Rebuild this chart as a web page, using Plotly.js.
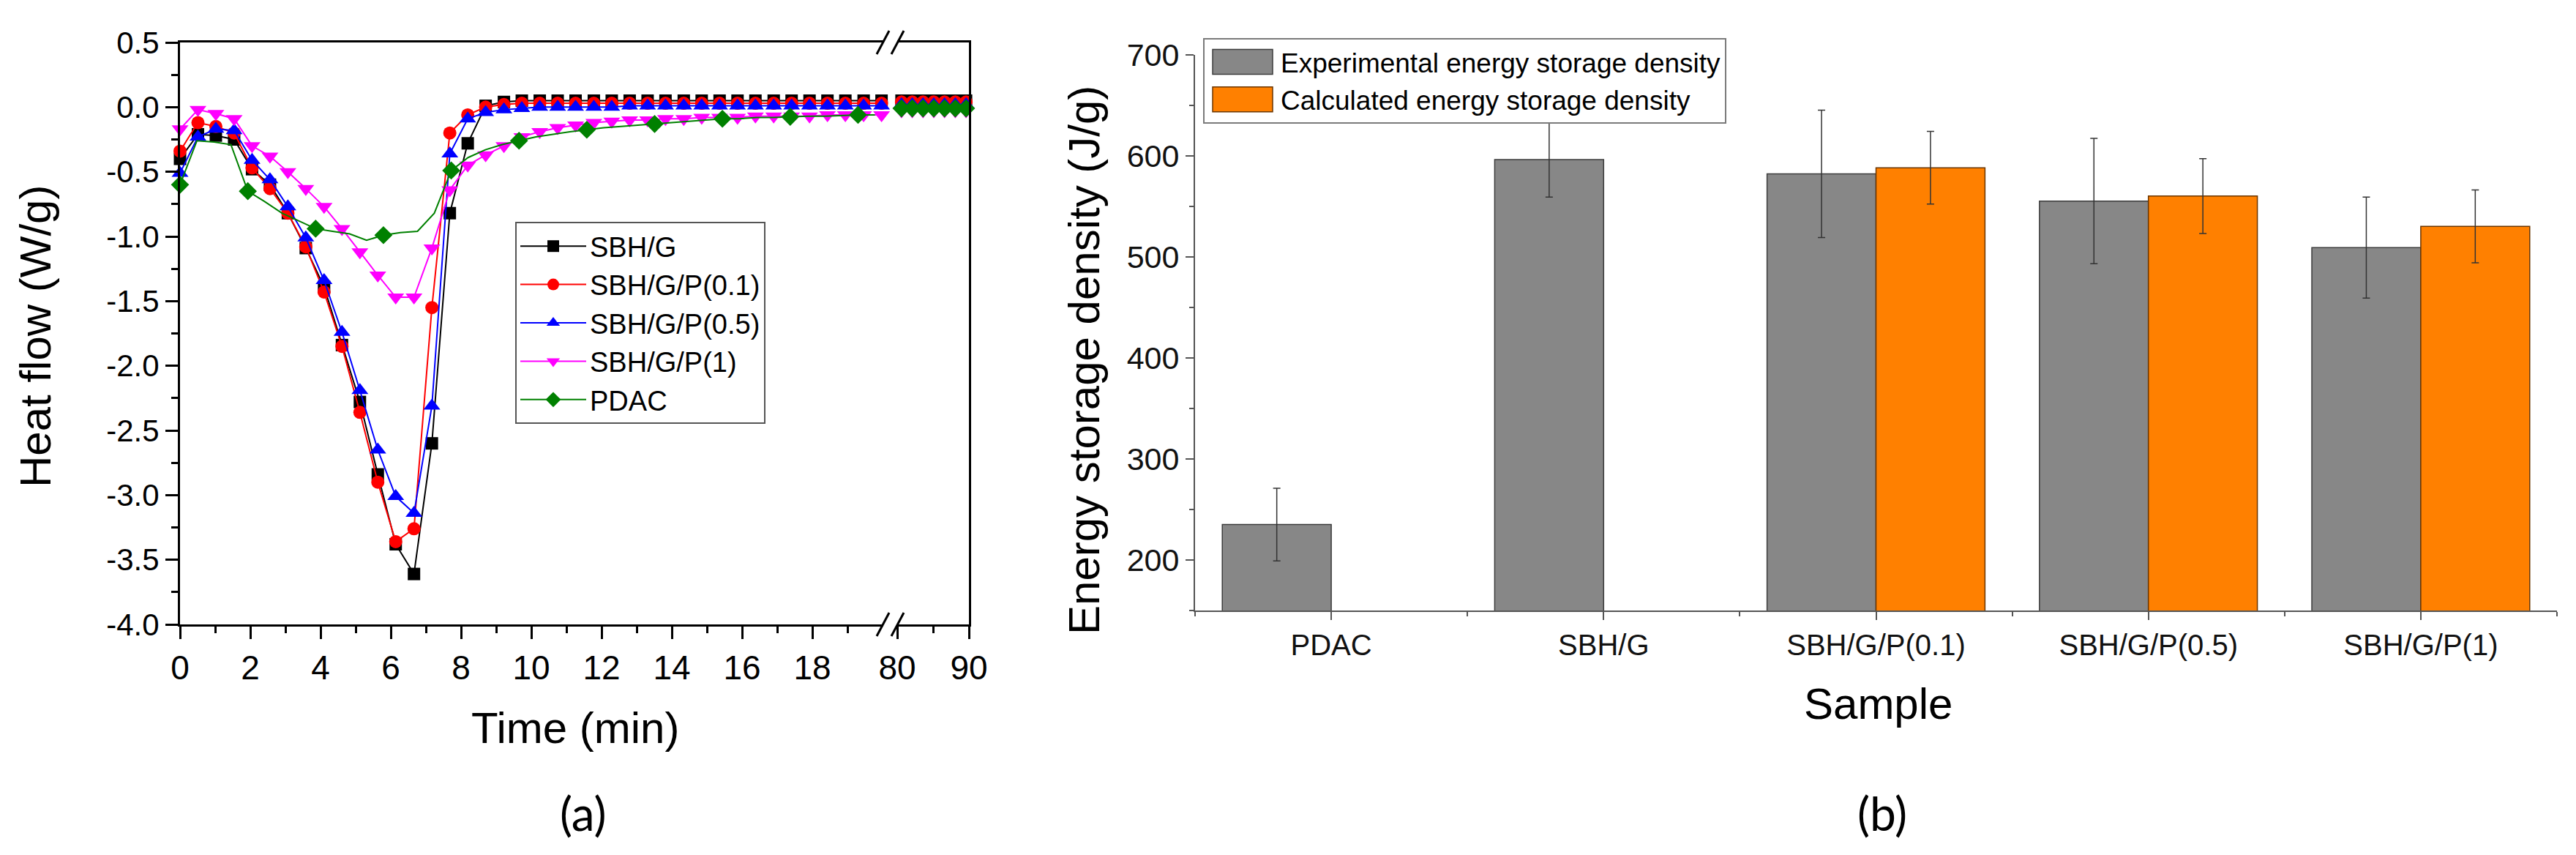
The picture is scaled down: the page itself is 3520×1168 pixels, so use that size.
<!DOCTYPE html>
<html>
<head>
<meta charset="utf-8">
<script src="https://cdn.plot.ly/plotly-3.0.1.min.js"></script>
<style>
  html, body { margin: 0; padding: 0; background: #fff; }
  #fig { width: 3520px; height: 1168px; }
</style>
</head>
<body>
<div id="fig"></div>
<script>
// ---- (a) heat flow vs time, left part of the broken axis (0-20 min)
const timeA = [0, 0.51, 1.02, 1.54, 2.05, 2.56, 3.07, 3.58, 4.10, 4.61,
  5.12, 5.63, 6.14, 6.66, 7.17, 7.68, 8.19, 8.70, 9.22, 9.73,
  10.24, 10.75, 11.26, 11.78, 12.29, 12.80, 13.31, 13.82, 14.34, 14.85,
  15.36, 15.87, 16.38, 16.90, 17.41, 17.92, 18.43, 18.94, 19.46, 19.97];

const sbhG = [-0.40, -0.21, -0.22, -0.25, -0.48, -0.60, -0.82, -1.09, -1.39, -1.84,
  -2.28, -2.84, -3.38, -3.61, -2.60, -0.82, -0.28, 0.01, 0.04, 0.05,
  0.05, 0.05, 0.05, 0.05, 0.05, 0.05, 0.05, 0.05, 0.05, 0.05,
  0.05, 0.05, 0.05, 0.05, 0.05, 0.05, 0.05, 0.05, 0.05, 0.05];

const sbhGP01 = [-0.34, -0.12, -0.15, -0.20, -0.47, -0.63, -0.82, -1.08, -1.43, -1.85,
  -2.36, -2.90, -3.36, -3.26, -1.55, -0.20, -0.06, 0.00, 0.02, 0.03,
  0.03, 0.03, 0.03, 0.03, 0.03, 0.03, 0.03, 0.03, 0.03, 0.03,
  0.03, 0.03, 0.03, 0.03, 0.03, 0.03, 0.03, 0.03, 0.03, 0.03];

const sbhGP05 = [-0.51, -0.23, -0.17, -0.18, -0.41, -0.56, -0.77, -1.01, -1.34, -1.74,
  -2.19, -2.65, -3.01, -3.14, -2.31, -0.36, -0.09, -0.04, -0.02, -0.01,
  0.00, 0.00, 0.00, 0.00, 0.00, 0.01, 0.01, 0.01, 0.01, 0.01,
  0.01, 0.01, 0.01, 0.01, 0.01, 0.01, 0.01, 0.01, 0.01, 0.01];

const sbhGP1 = [-0.17, -0.02, -0.05, -0.09, -0.30, -0.38, -0.50, -0.63, -0.77, -0.94,
  -1.12, -1.30, -1.47, -1.47, -1.09, -0.64, -0.45, -0.37, -0.30, -0.23,
  -0.19, -0.16, -0.14, -0.12, -0.11, -0.10, -0.10, -0.09, -0.09, -0.08,
  -0.08, -0.08, -0.07, -0.07, -0.07, -0.07, -0.06, -0.06, -0.06, -0.06];

// PDAC is logged on its own, finer grid (marker shown on every 4th point)
const timePdac = [0, 0.48, 0.97, 1.45, 1.93, 2.41, 2.90, 3.38, 3.86, 4.34,
  4.83, 5.31, 5.79, 6.27, 6.76, 7.24, 7.72, 8.20, 8.69, 9.17,
  9.65, 10.13, 10.62, 11.10, 11.58, 12.06, 12.55, 13.03, 13.51, 13.99,
  14.48, 14.96, 15.44, 15.92, 16.41, 16.89, 17.37, 17.85, 18.34, 18.82,
  19.30, 19.78];
const pdac = [-0.60, -0.26, -0.27, -0.29, -0.65, -0.73, -0.82, -0.88, -0.94, -0.96,
  -0.98, -1.03, -0.99, -0.97, -0.96, -0.82, -0.49, -0.39, -0.33, -0.29,
  -0.26, -0.23, -0.21, -0.19, -0.175, -0.16, -0.15, -0.14, -0.13, -0.12,
  -0.11, -0.10, -0.09, -0.09, -0.08, -0.08, -0.075, -0.07, -0.07, -0.065,
  -0.06, -0.06];

// ---- (a) right part of the broken axis (80-90 min)
const timeB = [80.6, 82.1, 83.6, 85.1, 86.6, 88.1, 89.6];
const sbhGEnd = [0.05, 0.05, 0.05, 0.05, 0.05, 0.05, 0.05];
const sbhGP01End = [0.04, 0.04, 0.04, 0.04, 0.04, 0.04, 0.04];
const sbhGP05End = [0.02, 0.02, 0.02, 0.02, 0.02, 0.02, 0.02];
const sbhGP1End = [-0.03, -0.03, -0.03, -0.03, -0.03, -0.03, -0.03];
const pdacEnd = [-0.01, -0.01, -0.01, -0.01, -0.01, -0.01, -0.01];

// ---- (a) tick labels
const timeTicksA = [0, 2, 4, 6, 8, 10, 12, 14, 16, 18];
const timeMinorA = [1, 3, 5, 7, 9, 11, 13, 15, 17, 19];
const timeTicksB = [80, 90];
const timeMinorB = [85];
const heatTicks = [-4, -3.5, -3, -2.5, -2, -1.5, -1, -0.5, 0, 0.5];
const heatTickText = ['-4.0', '-3.5', '-3.0', '-2.5', '-2.0', '-1.5', '-1.0', '-0.5', '0.0', '0.5'];
const heatMinor = [-3.75, -3.25, -2.75, -2.25, -1.75, -1.25, -0.75, -0.25, 0.25];

// ---- (b) energy storage density
const samples = ['PDAC', 'SBH/G', 'SBH/G/P(0.1)', 'SBH/G/P(0.5)', 'SBH/G/P(1)'];
const expDensity = [235, 596, 582, 555, 509];
const expErr = [36, 37, 63, 62, 50];
const calcDensity = [null, null, 588, 560, 530];
const calcErr = [null, null, 36, 37, 36];


const W = 3520, H = 1168;
const px = v => v / W;
const py = v => 1 - v / H;

const FONT = 'Liberation Sans, Arial, Helvetica, sans-serif';
const sampleIdx = samples.map((s, i) => i);

const seriesA = [
  {name: 'SBH/G', y: sbhG, yEnd: sbhGEnd, color: '#000000', symbol: 'square', size: 17},
  {name: 'SBH/G/P(0.1)', y: sbhGP01, yEnd: sbhGP01End, color: '#ff0000', symbol: 'circle', size: 18},
  {name: 'SBH/G/P(0.5)', y: sbhGP05, yEnd: sbhGP05End, color: '#0000ff', symbol: 'triangle-up', size: 20},
  {name: 'SBH/G/P(1)', y: sbhGP1, yEnd: sbhGP1End, color: '#ff00ff', symbol: 'triangle-down', size: 20}
];

const traces = [];

seriesA.forEach(s => {
  traces.push({
    x: timeA, y: s.y,
    mode: 'lines+markers',
    name: s.name,
    xaxis: 'x', yaxis: 'y',
    legend: 'legend',
    cliponaxis: false,
    line: {color: s.color, width: 2},
    marker: {color: s.color, symbol: s.symbol, size: s.size}
  });
});

traces.push({
  x: timePdac, y: pdac,
  mode: 'lines+markers',
  name: 'PDAC',
  xaxis: 'x', yaxis: 'y',
  legend: 'legend',
  cliponaxis: false,
  line: {color: '#008000', width: 2},
  marker: {color: '#008000', symbol: 'diamond', size: 19, maxdisplayed: 11}
});

// right segment of the broken axis
seriesA.forEach(s => {
  traces.push({
    x: timeB, y: s.yEnd,
    mode: 'lines+markers',
    name: s.name,
    showlegend: false,
    xaxis: 'x2', yaxis: 'y2',
    cliponaxis: false,
    line: {color: s.color, width: 2},
    marker: {color: s.color, symbol: s.symbol, size: s.size}
  });
});
traces.push({
  x: timeB, y: pdacEnd,
  mode: 'lines+markers',
  name: 'PDAC',
  showlegend: false,
  xaxis: 'x2', yaxis: 'y2',
  cliponaxis: false,
  line: {color: '#008000', width: 2},
  marker: {color: '#008000', symbol: 'diamond', size: 19}
});

// (b) bars
traces.push({
  type: 'bar',
  x: sampleIdx, y: expDensity,
  name: 'Experimental energy storage density',
  xaxis: 'x3', yaxis: 'y3',
  legend: 'legend2',
  marker: {color: '#878787', line: {color: '#3c3c3c', width: 1.5}},
  error_y: {type: 'data', array: expErr, visible: true, color: '#333333', thickness: 1.5, width: 5}
});
traces.push({
  type: 'bar',
  x: sampleIdx, y: calcDensity,
  name: 'Calculated energy storage density',
  xaxis: 'x3', yaxis: 'y3',
  legend: 'legend2',
  marker: {color: '#ff8000', line: {color: '#6b3500', width: 1.5}},
  error_y: {type: 'data', array: calcErr, visible: true, color: '#333333', thickness: 1.5, width: 5}
});


const axA = {
  showline: true, linecolor: '#000', linewidth: 3,
  ticks: 'outside', ticklen: 17, tickwidth: 3, tickcolor: '#000',
  showgrid: false, zeroline: false,
  tickfont: {family: FONT, size: 46, color: '#000'}
};
const minorA = {ticks: 'outside', ticklen: 9, tickwidth: 3, tickcolor: '#000', showgrid: false};

const axB = {
  showline: true, linecolor: '#555', linewidth: 2,
  ticks: 'outside', ticklen: 11, tickwidth: 2, tickcolor: '#555',
  showgrid: false, zeroline: false
};
const minorB = {ticks: 'outside', ticklen: 6, tickwidth: 2, tickcolor: '#555', showgrid: false};

// break marks "//" on the top and bottom frame lines of (a)
const breakMarks = [];
[853, 58].forEach(yAxis => {
  [[1198, 1215], [1218, 1235]].forEach(([x0, x1]) => {
    breakMarks.push({
      type: 'line', xref: 'paper', yref: 'paper',
      x0: px(x0), y0: py(yAxis + 16), x1: px(x1), y1: py(yAxis - 16),
      line: {color: '#000', width: 3}
    });
  });
});

const layout = {
  width: W, height: H,
  margin: {l: 0, r: 0, t: 0, b: 0},
  paper_bgcolor: '#fff',
  plot_bgcolor: 'rgba(0,0,0,0)',
  font: {family: FONT, color: '#000'},
  showlegend: true,
  barmode: 'group',
  bargap: 0.2,
  bargroupgap: 0,

  xaxis: Object.assign({}, axA, {
    domain: [px(246), px(1207)], range: [0, 20.02], anchor: 'y', mirror: true,
    tickmode: 'array', tickvals: timeTicksA, ticktext: timeTicksA.map(String),
    minor: Object.assign({tickmode: 'array', tickvals: timeMinorA}, minorA)
  }),
  xaxis2: Object.assign({}, axA, {
    domain: [px(1226), px(1324)], range: [80, 90], anchor: 'y2', mirror: true,
    tickmode: 'array', tickvals: timeTicksB, ticktext: timeTicksB.map(String),
    minor: Object.assign({tickmode: 'array', tickvals: timeMinorB}, minorA)
  }),
  yaxis: Object.assign({}, axA, {
    domain: [py(853), py(58)], range: [-4, 0.5], anchor: 'x',
    tickmode: 'array', tickvals: heatTicks, ticktext: heatTickText,
    tickfont: {family: FONT, size: 42, color: '#000'},
    minor: Object.assign({tickmode: 'array', tickvals: heatMinor}, minorA)
  }),
  yaxis2: {
    domain: [py(853), py(58)], range: [-4, 0.5], anchor: 'x2', side: 'right',
    showline: true, linecolor: '#000', linewidth: 3,
    ticks: '', showticklabels: false, showgrid: false, zeroline: false
  },

  xaxis3: Object.assign({}, axB, {
    domain: [px(1633), px(3494)], range: [-0.5, 4.5], anchor: 'y3',
    tickmode: 'array', tickvals: sampleIdx, ticktext: samples,
    tickfont: {family: FONT, size: 40, color: '#111'},
    minor: Object.assign({tickmode: 'linear', tick0: 0.5, dtick: 1}, minorB)
  }),
  yaxis3: Object.assign({}, axB, {
    domain: [py(834), py(74.5)], range: [150, 700], anchor: 'x3',
    tickmode: 'linear', tick0: 0, dtick: 100,
    tickfont: {family: FONT, size: 43, color: '#111'},
    minor: Object.assign({tickmode: 'linear', tick0: 0, dtick: 50}, minorB)
  }),

  legend: {
    x: px(704), y: py(303), xanchor: 'left', yanchor: 'top',
    bgcolor: '#fff', bordercolor: '#555', borderwidth: 2,
    font: {family: FONT, size: 38, color: '#000'},
    itemwidth: 90, tracegroupgap: 0
  },
  legend2: {
    x: px(1644), y: py(52), xanchor: 'left', yanchor: 'top',
    bgcolor: '#fff', bordercolor: '#7a7a7a', borderwidth: 2,
    font: {family: FONT, size: 37, color: '#000'},
    itemwidth: 94, tracegroupgap: 0
  },

  shapes: breakMarks,

  annotations: [
    {text: 'Heat flow (W/g)', x: px(48), y: py(460), textangle: -90,
     font: {family: FONT, size: 60, color: '#000'}},
    {text: 'Time (min)', x: px(786), y: py(994),
     font: {family: FONT, size: 60, color: '#000'}},
    {text: '(a)', x: px(797), y: py(1110),
     font: {family: 'Lato, Liberation Sans, sans-serif', size: 64, color: '#000'}},
    {text: 'Energy storage density (J/g)', x: px(1481), y: py(492), textangle: -90,
     font: {family: FONT, size: 60, color: '#000'}},
    {text: 'Sample', x: px(2566), y: py(961),
     font: {family: FONT, size: 60, color: '#000'}},
    {text: '(b)', x: px(2572), y: py(1110),
     font: {family: 'Lato, Liberation Sans, sans-serif', size: 64, color: '#000'}}
  ].map(a => Object.assign({xref: 'paper', yref: 'paper', xanchor: 'center', yanchor: 'middle', showarrow: false}, a))
};

// the bar legend swatches are drawn larger in the reference
function enlargeBarSwatches() {
  document.querySelectorAll('g.legendpoints path').forEach(p => {
    const d = p.getAttribute('d') || '';
    if (p.classList.contains('legendbar') || d === 'M6,6H-6V-6H6Z') {
      p.setAttribute('d', 'M41,17H-41V-17H41Z');
    }
  });
}

const done = Plotly.newPlot('fig', traces, layout, {staticPlot: true, displayModeBar: false});
enlargeBarSwatches();
done.then(() => {
  enlargeBarSwatches();
  setTimeout(enlargeBarSwatches, 0);
  setTimeout(enlargeBarSwatches, 200);
});
</script>
</body>
</html>
